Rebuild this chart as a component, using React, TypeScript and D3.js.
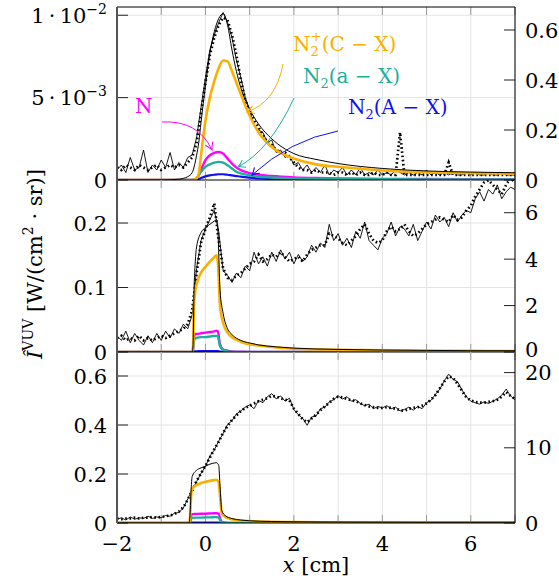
import React from 'react';
import * as d3 from 'd3';

// ---------- axes / ticks ----------
const X_DOMAIN = [-2, 7];
const X_TICKS = [-2, -1, 0, 1, 2, 3, 4, 5, 6, 7];
const X_LABEL_TICKS = [-2, 0, 2, 4, 6];

// experimental samples: x = -2 .. 7 step 0.1 (91 samples)
const EXP_START = -2;
const EXP_STEP = 0.1;

// ---------- panel 1 (left in units of 1e-3) ----------
const p1LeftTicks = [0, 5, 10];
const p1LeftLabels = [['0', ''], ['5\u2009·\u200910', '−3'], ['1\u2009·\u200910', '−2']];
const p1RightTicks = [0, 0.2, 0.4, 0.6];
const p1RightLabels = ['0', '0.2', '0.4', '0.6'];

const p1ModelX = [-2, -1, -0.6, -0.5, -0.4, -0.3, -0.2, -0.15, -0.1, 0, 0.1, 0.2, 0.3, 0.4, 0.5, 0.6, 0.7, 0.8, 1, 1.2, 1.5, 2, 2.5, 3, 4, 5, 6, 7];
const p1Total = [0, 0, 0.05, 0.1, 0.2, 0.45, 1.5, 2.3, 3.5, 5.7, 7.7, 9.0, 9.8, 10.1, 9.4, 7.9, 6.6, 5.6, 4.3, 3.4, 2.5, 1.6, 1.25, 1.0, 0.7, 0.55, 0.48, 0.44];
const p1CX = [0, 0, 0, 0, 0, 0, 0.1, 0.4, 1.5, 3.6, 5.0, 6.0, 6.8, 7.25, 7.2, 6.6, 5.9, 5.2, 3.9, 2.9, 2.0, 1.3, 0.95, 0.8, 0.58, 0.47, 0.42, 0.38];
const p1N = [0, 0, 0, 0, 0, 0, 0.1, 0.3, 0.6, 1.2, 1.5, 1.65, 1.7, 1.6, 1.3, 1.0, 0.75, 0.6, 0.42, 0.32, 0.24, 0.16, 0.12, 0.1, 0.07, 0.06, 0.05, 0.05];
const p1aX = [0, 0, 0, 0, 0, 0, 0.1, 0.3, 0.5, 0.8, 0.95, 1.05, 1.1, 1.05, 0.9, 0.7, 0.5, 0.4, 0.28, 0.2, 0.15, 0.1, 0.08, 0.07, 0.05, 0.04, 0.04, 0.03];
const p1AX = [0, 0, 0, 0, 0, 0, 0.03, 0.06, 0.12, 0.22, 0.28, 0.32, 0.35, 0.35, 0.32, 0.28, 0.24, 0.2, 0.14, 0.1, 0.06, 0.03, 0.02, 0.01, 0, 0, 0, 0];

const p1ExpSolid = [
  0.04, 0.06, 0.03, 0.09, 0.04, 0.05, 0.12, 0.03, 0.06, 0.04,
  0.08, 0.05, 0.11, 0.04, 0.07, 0.05, 0.09, 0.10, 0.17, 0.29,
  0.41, 0.52, 0.58, 0.63, 0.67, 0.63, 0.57, 0.48, 0.41, 0.33,
  0.28, 0.22, 0.20, 0.19, 0.15, 0.16, 0.11, 0.12, 0.09, 0.10,
  0.06, 0.07, 0.04, 0.06, 0.03, 0.05, 0.03, 0.06, 0.02, 0.04,
  0.03, 0.05, 0.02, 0.04, 0.02, 0.05, 0.02, 0.03, 0.02, 0.04,
  0.02, 0.03, 0.02, 0.04, 0.03, 0.02, 0.03, 0.02, 0.03, 0.02,
  0.04, 0.02, 0.03, 0.02, 0.03, 0.02, 0.03, 0.02, 0.02, 0.03,
  0.02, 0.03, 0.02, 0.02, 0.03, 0.02, 0.02, 0.03, 0.02, 0.02,
  0.02,
];
const p1ExpDotted = [
  0.05, 0.04, 0.06, 0.05, 0.04, 0.06, 0.05, 0.04, 0.05, 0.06,
  0.04, 0.05, 0.06, 0.05, 0.06, 0.05, 0.07, 0.09, 0.15, 0.27,
  0.39, 0.50, 0.57, 0.62, 0.65, 0.64, 0.58, 0.50, 0.40, 0.32,
  0.27, 0.24, 0.21, 0.18, 0.15, 0.14, 0.12, 0.11, 0.11, 0.09,
  0.07, 0.05, 0.04, 0.04, 0.03, 0.04, 0.03, 0.03, 0.03, 0.02,
  0.03, 0.03, 0.02, 0.03, 0.02, 0.03, 0.02, 0.02, 0.03, 0.02,
  0.02, 0.03, 0.02, 0.02, 0.19, 0.02, 0.02, 0.02, 0.02, 0.02,
  0.02, 0.02, 0.02, 0.02, 0.02, 0.07, 0.02, 0.02, 0.02, 0.02,
  0.02, 0.02, 0.02, 0.02, 0.02, 0.02, 0.02, 0.02, 0.02, 0.02,
  0.02,
];

// ---------- panel 2 ----------
const p2LeftTicks = [0, 0.1, 0.2];
const p2LeftLabels = [['0', ''], ['0.1', ''], ['0.2', '']];
const p2RightTicks = [0, 2, 4, 6];
const p2RightLabels = ['0', '2', '4', '6'];

const p2ModelX = [-2, -1, -0.5, -0.3, -0.28, -0.26, -0.23, -0.2, -0.1, 0, 0.1, 0.2, 0.25, 0.28, 0.33, 0.4, 0.5, 0.6, 0.8, 1, 1.2, 1.6, 2, 3, 4, 5, 6, 7];
const p2Total = [0, 0, 0, 0, 0.01, 0.09, 0.14, 0.163, 0.185, 0.193, 0.198, 0.203, 0.205, 0.19, 0.096, 0.06, 0.036, 0.027, 0.018, 0.014, 0.011, 0.008, 0.006, 0.004, 0.003, 0.0025, 0.002, 0.002];
const p2CX = [0, 0, 0, 0, 0.01, 0.07, 0.095, 0.105, 0.123, 0.132, 0.14, 0.147, 0.15, 0.14, 0.07, 0.045, 0.03, 0.023, 0.016, 0.012, 0.01, 0.007, 0.005, 0.0035, 0.0025, 0.002, 0.0018, 0.0015];
const p2N = [0, 0, 0, 0, 0.004, 0.024, 0.028, 0.028, 0.029, 0.030, 0.031, 0.032, 0.033, 0.032, 0.012, 0.004, 0.002, 0.001, 0.0005, 0, 0, 0, 0, 0, 0, 0, 0, 0];
const p2aX = [0, 0, 0, 0, 0.003, 0.017, 0.021, 0.022, 0.023, 0.023, 0.024, 0.025, 0.025, 0.024, 0.009, 0.003, 0.001, 0.0005, 0, 0, 0, 0, 0, 0, 0, 0, 0, 0];
const p2AX = [0, 0, 0, 0, 0.0003, 0.001, 0.0012, 0.0012, 0.0013, 0.0013, 0.0014, 0.0014, 0.0014, 0.0013, 0.0005, 0.0002, 0.0001, 0, 0, 0, 0, 0, 0, 0, 0, 0, 0, 0];

const p2ExpSolid = [
  0.7, 0.5, 0.9, 0.4, 0.8, 0.5, 0.3, 0.7, 0.4, 0.8,
  0.5, 0.9, 0.6, 1.0, 0.8, 1.2, 1.0, 1.6, 3.6, 4.8,
  5.3, 5.7, 6.1, 5.2, 3.5, 3.3, 3.0, 3.4, 3.2, 3.7,
  3.5, 4.3, 3.8, 4.1, 3.7, 4.3, 3.9, 4.4, 4.0, 4.3,
  3.8, 4.2, 3.9, 4.1, 4.6, 4.3, 4.7, 4.5, 5.5, 4.8,
  5.1, 4.6, 4.9, 4.5, 5.2, 4.9, 5.6, 4.8, 4.6, 4.4,
  4.9, 5.1, 5.6, 5.0, 5.4, 5.3, 5.0, 5.5, 4.8, 5.2,
  5.6, 5.3, 5.9, 5.6, 5.8, 5.4, 6.0, 5.6, 5.9, 6.1,
  6.0, 6.6, 6.9, 6.5, 7.0, 6.8, 7.2, 6.6, 6.9, 7.1,
  7.0,
];
const p2ExpDotted = [
  0.6, 0.7, 0.5, 0.6, 0.5, 0.7, 0.5, 0.6, 0.5, 0.6,
  0.7, 0.6, 0.7, 0.8, 0.9, 1.0, 1.2, 1.8, 3.4, 4.7,
  5.3, 5.8, 6.4, 4.8, 3.6, 3.2, 3.1, 3.3, 3.4, 3.6,
  3.8, 3.9, 4.2, 3.9, 4.0, 4.2, 4.1, 4.3, 4.1, 3.9,
  4.0, 4.1, 3.9, 4.2, 4.4, 4.5, 4.6, 4.6, 5.1, 5.0,
  4.9, 4.7, 4.6, 4.8, 5.0, 5.3, 5.5, 5.1, 4.8, 4.7,
  4.8, 5.2, 5.4, 5.2, 5.3, 5.5, 5.2, 5.0, 5.1, 5.3,
  5.5, 5.6, 5.7, 5.8, 5.7, 5.6, 5.9, 5.7, 5.8, 6.1,
  6.3, 6.7, 7.0, 7.3, 7.4, 7.2, 7.0, 6.8, 7.2, 7.5,
  7.3,
];

// ---------- panel 3 ----------
const p3LeftTicks = [0, 0.2, 0.4, 0.6];
const p3LeftLabels = [['0', ''], ['0.2', ''], ['0.4', ''], ['0.6', '']];
const p3RightTicks = [0, 10, 20];
const p3RightLabels = ['0', '10', '20'];

const p3ModelX = [-2, -1, -0.5, -0.37, -0.35, -0.32, -0.3, -0.2, -0.1, 0, 0.1, 0.2, 0.25, 0.3, 0.33, 0.37, 0.45, 0.6, 0.8, 1, 1.5, 2, 3, 4, 5, 6, 7];
const p3Total = [0, 0, 0, 0, 0.03, 0.15, 0.19, 0.215, 0.225, 0.232, 0.24, 0.245, 0.246, 0.235, 0.15, 0.05, 0.03, 0.018, 0.012, 0.009, 0.006, 0.005, 0.004, 0.0035, 0.003, 0.003, 0.003];
const p3CX = [0, 0, 0, 0, 0.02, 0.12, 0.14, 0.155, 0.163, 0.168, 0.172, 0.175, 0.176, 0.165, 0.11, 0.04, 0.025, 0.015, 0.01, 0.008, 0.005, 0.004, 0.003, 0.0025, 0.002, 0.002, 0.002];
const p3N = [0, 0, 0, 0, 0.005, 0.03, 0.036, 0.037, 0.038, 0.038, 0.039, 0.04, 0.04, 0.038, 0.02, 0.005, 0.001, 0, 0, 0, 0, 0, 0, 0, 0, 0, 0];
const p3aX = [0, 0, 0, 0, 0.003, 0.018, 0.021, 0.022, 0.022, 0.023, 0.023, 0.024, 0.024, 0.022, 0.012, 0.003, 0.001, 0, 0, 0, 0, 0, 0, 0, 0, 0, 0];
const p3AX = [0, 0, 0, 0, 0.0005, 0.002, 0.002, 0.002, 0.002, 0.002, 0.002, 0.002, 0.002, 0.002, 0.001, 0.0003, 0, 0, 0, 0, 0, 0, 0, 0, 0, 0, 0];

const p3ExpSolid = [
  0.5, 0.7, 0.4, 0.8, 0.5, 0.7, 0.6, 0.9, 0.6, 0.8,
  0.7, 1.0, 0.9, 1.3, 1.4, 2.0, 3.2, 4.4, 5.5, 6.6,
  7.5, 8.9, 9.7, 10.9, 11.9, 13.1, 13.6, 14.5, 14.9, 15.4,
  15.7, 15.2, 16.3, 16.0, 16.8, 17.2, 16.5, 16.9, 16.2, 16.6,
  15.1, 14.4, 13.9, 13.0, 14.1, 14.2, 15.2, 15.4, 16.1, 16.4,
  16.9, 16.5, 16.8, 16.2, 16.4, 15.9, 15.6, 15.8, 15.2, 15.5,
  15.3, 15.6, 15.2, 15.4, 14.9, 15.1, 15.4, 15.0, 15.5, 15.2,
  16.0, 16.3, 17.1, 17.8, 18.9, 19.8, 19.1, 18.8, 17.7, 16.8,
  16.2, 16.0, 15.8, 16.1, 15.9, 16.2, 16.5, 17.0, 17.8, 16.9,
  16.4,
];
const p3ExpDotted = [
  0.6, 0.5, 0.6, 0.6, 0.7, 0.6, 0.7, 0.7, 0.8, 0.7,
  0.8, 0.9, 1.0, 1.2, 1.5, 2.1, 3.1, 4.3, 5.6, 6.6,
  7.6, 8.7, 9.8, 10.8, 12.0, 12.9, 13.7, 14.3, 14.9, 15.3,
  15.6, 15.9, 16.2, 16.4, 16.6, 16.9, 16.8, 16.6, 16.4, 16.3,
  15.2, 14.5, 13.8, 13.4, 13.9, 14.4, 15.0, 15.5, 16.0, 16.5,
  16.8, 16.7, 16.5, 16.3, 16.2, 15.9, 15.7, 15.5, 15.4, 15.3,
  15.3, 15.4, 15.3, 15.2, 15.0, 14.9, 15.2, 15.3, 15.4, 15.6,
  15.9, 16.4, 17.0, 17.9, 18.8, 19.5, 19.3, 18.5, 17.6, 16.7,
  16.3, 16.1, 16.0, 16.0, 16.1, 16.2, 16.4, 16.8, 17.4, 16.9,
  16.5,
];

// ---------- styling ----------
const FONT = 'DejaVu Serif';
const C_ORANGE = '#FBAF00';
const C_TEAL = '#1BB09C';
const C_MAGENTA = '#FF00FF';
const C_BLUE = '#1010F0';
const PL = 117;
const PR = 515;
const xScale = d3.scaleLinear().domain(X_DOMAIN).range([PL, PR]);
const SP = ' ';
const TXT = { fontFamily: FONT };
const FS = 21;
const FS_SUB = 14;

type PanelDef = {
  id: string;
  top: number;
  bottom: number;
  leftMax: number;
  rightMax: number;
  leftTicks: number[];
  leftLabels: string[][];
  rightTicks: number[];
  rightLabels: string[];
  modelX: number[];
  total: number[];
  cx: number[];
  n: number[];
  ax: number[];
  bigA: number[];
  expSolid: number[];
  expDotted: number[];
};

const panels: PanelDef[] = [
  { id: 'p1', top: 7, bottom: 180, leftMax: 10.5, rightMax: 0.692, leftTicks: p1LeftTicks, leftLabels: p1LeftLabels, rightTicks: p1RightTicks, rightLabels: p1RightLabels, modelX: p1ModelX, total: p1Total, cx: p1CX, n: p1N, ax: p1aX, bigA: p1AX, expSolid: p1ExpSolid, expDotted: p1ExpDotted },
  { id: 'p2', top: 180, bottom: 352, leftMax: 0.2667, rightMax: 7.41, leftTicks: p2LeftTicks, leftLabels: p2LeftLabels, rightTicks: p2RightTicks, rightLabels: p2RightLabels, modelX: p2ModelX, total: p2Total, cx: p2CX, n: p2N, ax: p2aX, bigA: p2AX, expSolid: p2ExpSolid, expDotted: p2ExpDotted },
  { id: 'p3', top: 352, bottom: 523, leftMax: 0.698, rightMax: 22.74, leftTicks: p3LeftTicks, leftLabels: p3LeftLabels, rightTicks: p3RightTicks, rightLabels: p3RightLabels, modelX: p3ModelX, total: p3Total, cx: p3CX, n: p3N, ax: p3aX, bigA: p3AX, expSolid: p3ExpSolid, expDotted: p3ExpDotted },
];

function Panel({ p }: { p: PanelDef }) {
  const yL = d3.scaleLinear().domain([0, p.leftMax]).range([p.bottom, p.top]);
  const yR = d3.scaleLinear().domain([0, p.rightMax]).range([p.bottom, p.top]);
  const modelLine = d3
    .line<number>()
    .x((_, i) => xScale(p.modelX[i]))
    .y((d) => yL(d))
    .curve(d3.curveMonotoneX);
  const expLine = d3
    .line<number>()
    .x((_, i) => xScale(EXP_START + i * EXP_STEP))
    .y((d) => yR(d));
  const clip = `clip-${p.id}`;
  return (
    <g>
      <defs>
        <clipPath id={clip}>
          <rect x={PL} y={p.top} width={PR - PL} height={p.bottom - p.top} />
        </clipPath>
      </defs>
      {X_TICKS.map((t) => (
        <line key={'gx' + t} x1={xScale(t)} x2={xScale(t)} y1={p.top} y2={p.bottom} stroke="#e4e4e4" strokeWidth={1} />
      ))}
      {p.leftTicks.filter((t) => t > 0).map((t) => (
        <line key={'gy' + t} x1={PL} x2={PR} y1={yL(t)} y2={yL(t)} stroke="#e4e4e4" strokeWidth={1} />
      ))}
      {X_TICKS.map((t) => (
        <g key={'tx' + t}>
          <line x1={xScale(t)} x2={xScale(t)} y1={p.top} y2={p.top + 8} stroke="#9a9a9a" strokeWidth={1} />
          <line x1={xScale(t)} x2={xScale(t)} y1={p.bottom} y2={p.bottom - 8} stroke="#9a9a9a" strokeWidth={1} />
        </g>
      ))}
      <g clipPath={`url(#${clip})`}>
        <path d={expLine(p.expSolid) || ''} fill="none" stroke="#000" strokeWidth={0.9} />
        <path d={expLine(p.expDotted) || ''} fill="none" stroke="#000" strokeWidth={2.7} strokeDasharray="1.6 2.6" />
        <path d={modelLine(p.bigA) || ''} fill="none" stroke={C_BLUE} strokeWidth={2.2} />
        <path d={modelLine(p.n) || ''} fill="none" stroke={C_MAGENTA} strokeWidth={2.4} />
        <path d={modelLine(p.ax) || ''} fill="none" stroke={C_TEAL} strokeWidth={2.4} />
        <path d={modelLine(p.cx) || ''} fill="none" stroke={C_ORANGE} strokeWidth={2.6} />
        <path d={modelLine(p.total) || ''} fill="none" stroke="#000" strokeWidth={1} />
      </g>
      {p.leftTicks.map((t) => (
        <line key={'ly' + t} x1={PL} x2={PL + 11} y1={yL(t)} y2={yL(t)} stroke="#222" strokeWidth={1} />
      ))}
      {p.rightTicks.map((t) => (
        <line key={'ry' + t} x1={PR} x2={PR - 11} y1={yR(t)} y2={yR(t)} stroke="#222" strokeWidth={1} />
      ))}
      <line x1={PL} x2={PR} y1={p.bottom} y2={p.bottom} stroke="#000" strokeWidth={1} />
      {p.leftTicks.map((t, i) => (
        <text key={'lt' + t} x={107} y={yL(t)} dy="0.36em" textAnchor="end" fontSize={FS} style={TXT} fill="#000">
          {p.leftLabels[i][0]}
          {p.leftLabels[i][1] ? (
            <tspan fontSize={FS_SUB} dy={-9}>{p.leftLabels[i][1]}</tspan>
          ) : null}
        </text>
      ))}
      {p.rightTicks.map((t, i) => (
        <text key={'rt' + t} x={525} y={yR(t)} dy={t === 0 && p.id === 'p2' ? '0.26em' : '0.36em'} textAnchor="start" fontSize={FS} style={TXT} fill="#000">
          {p.rightLabels[i]}
        </text>
      ))}
    </g>
  );
}

function Arrow({ d, color, id }: { d: string; color: string; id: string }) {
  return <path d={d} fill="none" stroke={color} strokeWidth={1} markerEnd={`url(#${id})`} />;
}

export default function App() {
  const markers = [
    { id: 'mN', c: C_MAGENTA },
    { id: 'mC', c: C_ORANGE },
    { id: 'ma', c: C_TEAL },
    { id: 'mA', c: C_BLUE },
  ];
  return (
    <svg width={559} height={583} style={{ position: 'absolute', left: 0, top: 0, background: '#fff', fontFamily: FONT }}>
      <defs>
        {markers.map((m) => (
          <marker key={m.id} id={m.id} markerUnits="userSpaceOnUse" markerWidth={12} markerHeight={12} refX={0} refY={0} viewBox="-8 -6 10 12" orient="auto">
            <path d="M-7,-4 Q-2.5,-0.8 0,0 Q-2.5,0.8 -7,4" fill="none" stroke={m.c} strokeWidth={1.1} />
          </marker>
        ))}
      </defs>
      <rect x={0} y={0} width={559} height={583} fill="#fff" />
      {panels.map((p) => (
        <Panel key={p.id} p={p} />
      ))}
      <line x1={PL} x2={PR} y1={7} y2={7} stroke="#000" strokeWidth={1} />
      <line x1={PR} x2={PR} y1={7} y2={523} stroke="#000" strokeWidth={1} />
      <line x1={PL} x2={PL} y1={7} y2={523} stroke="#555" strokeWidth={2} />

      {/* annotations panel 1 */}
      <text x={135} y={113} fontSize={20} style={TXT} fill={C_MAGENTA}>N</text>
      <Arrow id="mN" color={C_MAGENTA} d="M162,122 Q198,120 212,150" />
      <text x={293} y={51} fontSize={20} style={TXT} fill={C_ORANGE}>
        N<tspan fontSize={13} dy={5}>2</tspan>
        <tspan fontSize={13} dx={-8} dy={-15}>+</tspan>
        <tspan dy={10}>{`(C${SP}−${SP}X)`}</tspan>
      </text>
      <Arrow id="mC" color={C_ORANGE} d="M283,64 Q276,102 247,112" />
      <text x={303} y={83} fontSize={20} style={TXT} fill={C_TEAL}>
        N<tspan fontSize={13} dy={5}>2</tspan>
        <tspan dy={-5}>{`(a${SP}−${SP}X)`}</tspan>
      </text>
      <Arrow id="ma" color={C_TEAL} d="M294,98 Q270,150 238,167" />
      <text x={348} y={114} fontSize={20} style={TXT} fill={C_BLUE}>
        N<tspan fontSize={13} dy={5}>2</tspan>
        <tspan dy={-5}>{`(A${SP}−${SP}X)`}</tspan>
      </text>
      <Arrow id="mA" color={C_BLUE} d="M338,131 Q290,140 252,175" />

      {X_LABEL_TICKS.map((t) => (
        <text key={'xl' + t} x={xScale(t)} y={551} textAnchor="middle" fontSize={FS} style={TXT} fill="#000">
          {t < 0 ? '−' + Math.abs(t) : String(t)}
        </text>
      ))}
      <text x={316} y={572} textAnchor="middle" fontSize={FS} style={TXT} fill="#000">
        <tspan fontStyle="italic">x</tspan> [cm]
      </text>
      <text transform="translate(42,264) rotate(-90)" textAnchor="middle" fontSize={FS} style={TXT} fill="#000">
        <tspan fontStyle="italic">Î</tspan>
        <tspan fontSize={FS_SUB} dy={-9}>VUV</tspan>
        <tspan dy={9}> [W/(cm</tspan>
        <tspan fontSize={FS_SUB} dy={-9}>2</tspan>
        <tspan dy={9}>{` · sr)]`}</tspan>
      </text>
    </svg>
  );
}
